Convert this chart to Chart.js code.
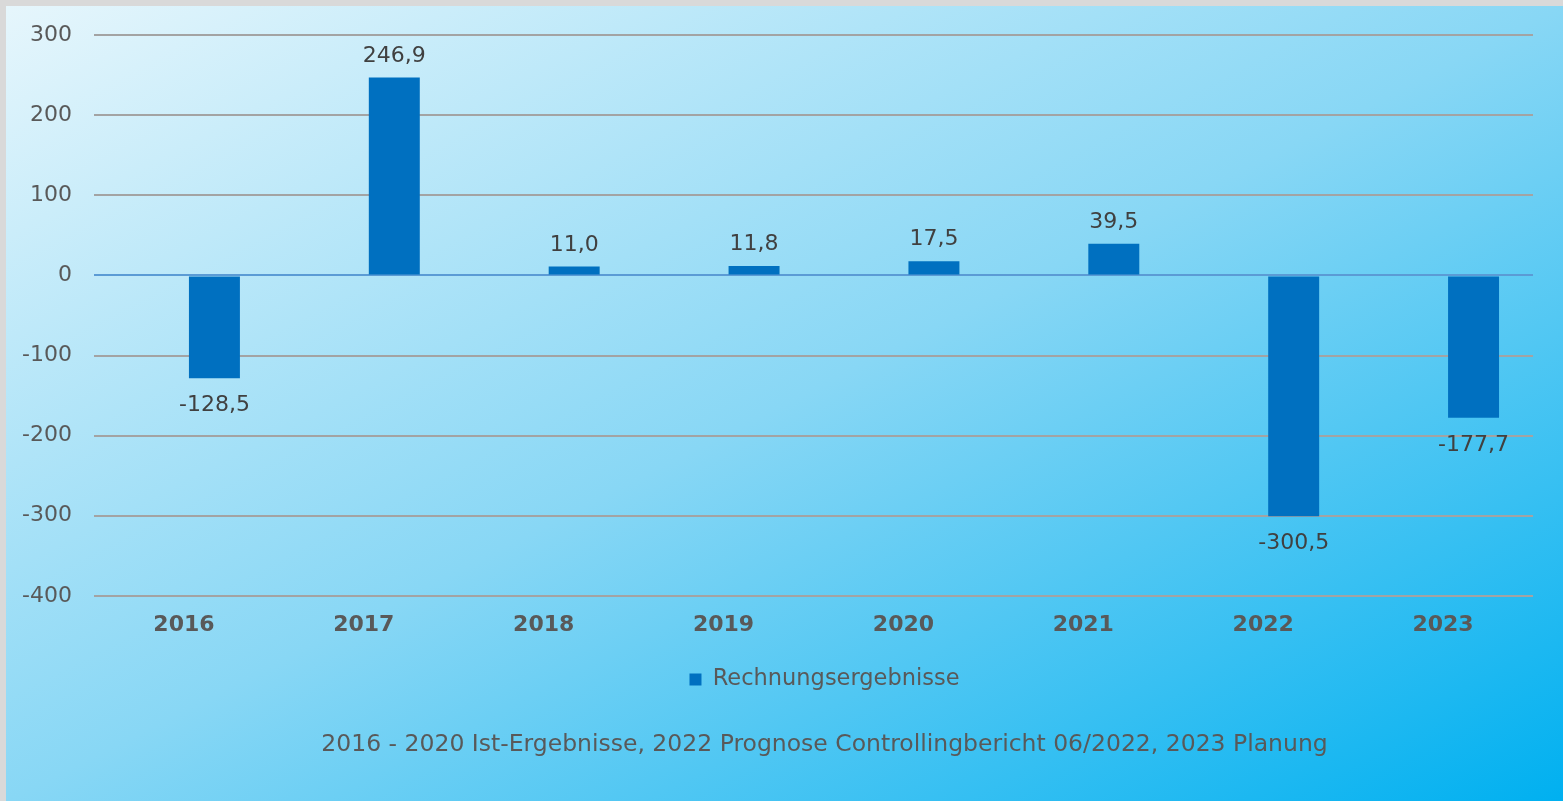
<!DOCTYPE html>
<html>
<head>
<meta charset="utf-8">
<script src="https://cdn.jsdelivr.net/npm/chart.js@4"></script>
<style>
  html, body { margin: 0; padding: 0; }
  #wrap {
    width: 1563px; height: 801px; box-sizing: border-box;
    border-top: 6px solid #d9d9d9; border-left: 6px solid #d9d9d9;
    background: linear-gradient(to bottom right, #e6f6fc 0%, #88d7f5 50%, #00b0f0 100%);
    position: relative;
  }
  #chart { display: block; }
</style>
</head>
<body>
<div id="wrap"><canvas id="chart" width="1557" height="795"></canvas></div>
<script>
const jahre = ['2016', '2017', '2018', '2019', '2020', '2021', '2022', '2023'];
const ergebnisse = [-128.5, 246.9, 11.0, 11.8, 17.5, 39.5, -300.5, -177.7];
const leer = [null, null, null, null, null, null, null, null];
const yTicks = [-400, -300, -200, -100, 0, 100, 200, 300];

const schrift = 'DejaVu Sans';
const textFarbe = '#595959';

// Werte an die Balken schreiben (kein datalabels-Plugin verfügbar)
const wertLabels = {
    id: 'wertLabels',
    afterDatasetsDraw(chart) {
        const ctx = chart.ctx;
        const meta = chart.getDatasetMeta(1);
        ctx.save();
        ctx.font = '22px "' + schrift + '"';
        ctx.fillStyle = '#404040';
        ctx.textAlign = 'center';
        ctx.textBaseline = 'alphabetic';
        meta.data.forEach(function (bar, i) {
            const v = ergebnisse[i];
            const txt = v.toLocaleString('de-DE', { minimumFractionDigits: 1, maximumFractionDigits: 1 });
            if (v >= 0) {
                ctx.fillText(txt, bar.x, bar.y - 16);
            } else {
                ctx.fillText(txt, bar.x, bar.y + 33);
            }
        });
        ctx.restore();
    }
};

// Legende und Untertitel wie im Original etwas nach rechts schieben
const verschieben = {
    id: 'verschieben',
    afterLayout(chart) {
        [chart.legend, chart.titleBlock].forEach(function (b) {
            if (b) { b.left += 55; b.right += 55; }
        });
    }
};

new Chart(document.getElementById('chart').getContext('2d'), {
    type: 'bar',
    data: {
        labels: jahre,
        datasets: [{
            label: 'leer',
            data: leer,
            backgroundColor: 'rgba(0,0,0,0)'
        }, {
            label: 'Rechnungsergebnisse',
            data: ergebnisse,
            backgroundColor: '#0070C0',
            borderWidth: 0
        }]
    },
    options: {
        responsive: false,
        animation: false,
        devicePixelRatio: 1,
        categoryPercentage: 0.678,
        barPercentage: 0.836,
        layout: {
            padding: { top: 29, right: 30, left: 0, bottom: 32 }
        },
        plugins: {
            legend: {
                position: 'bottom',
                labels: {
                    filter: function (item) { return item.datasetIndex === 1; },
                    boxWidth: 12,
                    boxHeight: 12,
                    color: textFarbe,
                    font: { family: schrift, size: 22.5 },
                    padding: 14
                }
            },
            title: {
                display: true,
                position: 'bottom',
                text: '2016 - 2020 Ist-Ergebnisse, 2022 Prognose Controllingbericht 06/2022, 2023 Planung',
                color: textFarbe,
                font: { family: schrift, size: 23.5, weight: 'normal' },
                padding: { top: 30, bottom: 10 }
            },
            tooltip: { enabled: false }
        },
        scales: {
            x: {
                grid: { display: false, drawTicks: false },
                border: { display: false },
                ticks: {
                    color: textFarbe,
                    font: { family: schrift, size: 22, weight: 'bold' },
                    padding: 16
                }
            },
            y: {
                min: -400,
                max: 300,
                afterBuildTicks: function (scale) {
                    scale.ticks = yTicks.map(function (v) { return { value: v }; });
                },
                afterFit: function (scale) {
                    scale.width = 88;
                    scale.paddingTop = 0;
                    scale.paddingBottom = 0;
                },
                grid: {
                    drawTicks: false,
                    lineWidth: 2,
                    color: function (c) { return c.tick && c.tick.value === 0 ? '#5b9bd5' : '#a3a3a3'; }
                },
                border: { display: false },
                ticks: {
                    color: textFarbe,
                    font: { family: schrift, size: 22 },
                    padding: 22
                }
            }
        }
    },
    plugins: [wertLabels, verschieben]
});
</script>
</body>
</html>
